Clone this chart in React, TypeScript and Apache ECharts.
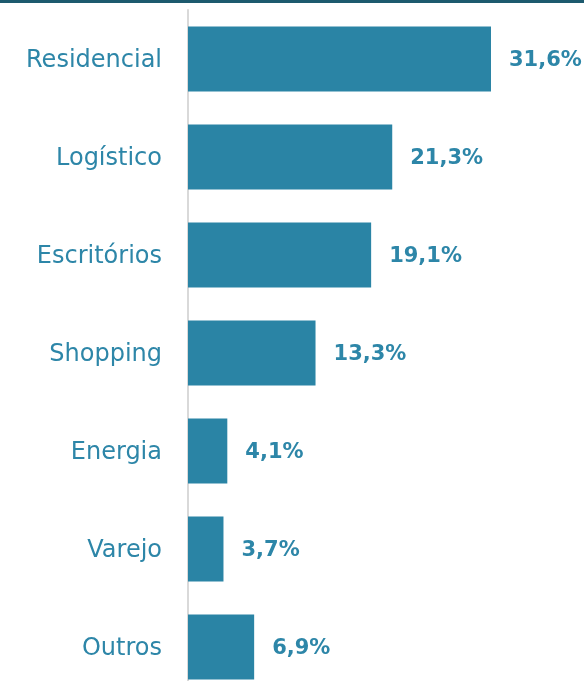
import React, { useEffect, useRef } from "react";
import * as echarts from "echarts";

const categories = ["Residencial", "Logístico", "Escritórios", "Shopping", "Energia", "Varejo", "Outros"];
const values = [31.6, 21.3, 19.1, 13.3, 4.1, 3.7, 6.9];

const BAR = "#2a84a5";
const TEXT = "#2d86a8";

export default function App() {
  const ref = useRef<HTMLDivElement>(null);
  useEffect(() => {
    document.body.style.margin = "0";
    const chart = echarts.init(ref.current!, null, { renderer: "svg" });
    chart.setOption({
      animation: false,
      grid: { left: 188, right: 0, top: 10, bottom: 0, containLabel: false },
      xAxis: {
        type: "value",
        min: 0,
        max: 41.3,
        show: false,
      },
      yAxis: {
        type: "category",
        inverse: true,
        data: categories,
        axisLine: { show: true, lineStyle: { color: "#d9d9d9", width: 2 } },
        axisTick: { show: false },
        axisLabel: {
          margin: 26,
          color: TEXT,
          fontFamily: "DejaVu Sans",
          fontSize: 24,
          fontWeight: "normal",
        },
      },
      graphic: [
        {
          type: "rect",
          shape: { x: 0, y: 0, width: 584, height: 3 },
          style: { fill: "#1d5a6e" },
        },
      ],
      series: [
        {
          type: "bar",
          data: values,
          barWidth: 65,
          itemStyle: { color: BAR },
          label: {
            show: true,
            position: "right",
            distance: 18,
            color: TEXT,
            fontFamily: "DejaVu Sans",
            fontWeight: "bold",
            fontSize: 21,
            formatter: (p: any) => String(p.value).replace(".", ",") + "%",
          },
        },
      ],
    });
    return () => chart.dispose();
  }, []);
  return <div ref={ref} style={{ position: "fixed", left: 0, top: 0, width: 584, height: 696 }} />;
}
